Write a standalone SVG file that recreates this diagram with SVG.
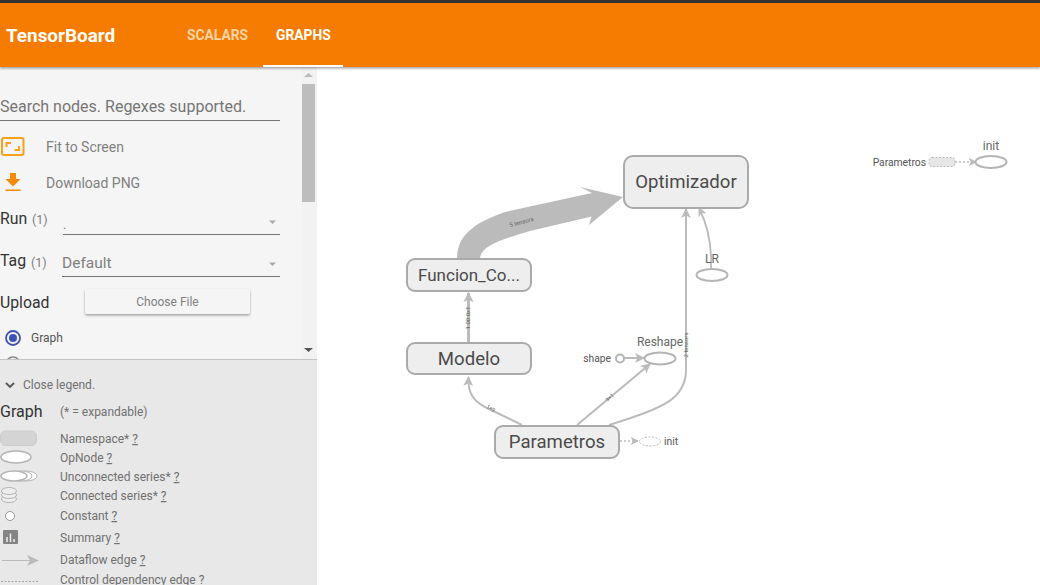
<svg xmlns="http://www.w3.org/2000/svg" width="1040" height="585" viewBox="0 0 1040 585">
<defs>
<marker id="ah" viewBox="0 0 10 10" refX="9" refY="5" markerWidth="5" markerHeight="5" orient="auto-start-reverse" markerUnits="strokeWidth"><path d="M0 0L10 5L0 10L2.500 5Z" fill="#bbb"/></marker>
<marker id="ah3" viewBox="0 0 10 10" refX="9" refY="5" markerWidth="3.400" markerHeight="3.400" orient="auto-start-reverse" markerUnits="strokeWidth"><path d="M0 0L10 5L0 10L2.500 5Z" fill="#bbb"/></marker>
<filter id="sh" x="-10%" y="-30%" width="120%" height="170%"><feDropShadow dx="0" dy="1.500" stdDeviation="1.200" flood-color="#000" flood-opacity=".35"/></filter>
</defs>
<style>
text{font-family:Roboto,"Liberation Sans",sans-serif}
.ns{fill:#eee;stroke:#aaa;stroke-width:2}
.nt{font-size:18.600px;fill:#4a4a4a;text-anchor:middle}
.op{fill:#fff;stroke:#b4b4b4;stroke-width:2}
.e{fill:none;stroke:#bbb}
.d{stroke-dasharray:2 2}
.lb{font-size:10.300px;fill:#555}
.tiny{font-size:6px;fill:#666;text-anchor:middle}
.s{font-size:14px;fill:#808080}
.k{font-size:15.800px;fill:#333}
.c{font-size:12.500px;fill:#808080}
.l{font-size:12px;fill:#707070}
.u{text-decoration:underline}
.rule{stroke:#757575;stroke-width:1}
.lg{fill:#fff;stroke:#b4b4b4}
</style>
<rect width="1040" height="585" fill="#fff"/>
<g id="sidebar">
<rect x="0" y="67" width="317" height="293" fill="#f5f5f5"/>
<rect x="302" y="67" width="15" height="293" fill="#f2f2f2"/>
<rect x="302" y="84" width="13" height="118" fill="#bdbdbd"/>
<path d="M304 77L308.500 73L313 77Z" fill="#bbb"/>
<path d="M304 348L308.500 352L313 348Z" fill="#555"/>
<text x="0" y="112" font-size="16" fill="#757575">Search nodes. Regexes supported.</text>
<line class="rule" x1="0" y1="120.500" x2="280" y2="120.500"/>
<rect x="2" y="138" width="21.500" height="17" rx="2" fill="none" stroke="#f9a11b" stroke-width="2"/>
<path d="M6.500 147V143H11M19 146V150H14.500" fill="none" stroke="#f9a11b" stroke-width="2"/>
<path d="M10 173H16V179H20.500L13 186.500L5.500 179H10ZM5.500 189.500H20.500V191H5.500Z" fill="#f58a0b"/>
<text class="s" x="46" y="152">Fit to Screen</text>
<text class="s" x="46" y="188">Download PNG</text>
<text class="k" x="0" y="224">Run</text><text class="c" x="32" y="224">(1)</text>
<text x="63" y="229" font-size="12" fill="#777">.</text>
<line class="rule" x1="63" y1="234.500" x2="280" y2="234.500"/>
<path d="M269 220.500H276L272.500 224Z" fill="#aaa"/>
<text class="k" x="0" y="266">Tag</text><text class="c" x="31" y="267">(1)</text>
<text x="62" y="268" font-size="15.500" fill="#808080">Default</text>
<line class="rule" x1="62" y1="276.500" x2="280" y2="276.500"/>
<path d="M269 262.500H276L272.500 266Z" fill="#aaa"/>
<text class="k" x="0" y="308">Upload</text>
<rect x="85" y="289" width="165" height="25" rx="2" fill="#f5f5f5" filter="url(#sh)"/>
<text x="167.500" y="306" font-size="12" fill="#808080" text-anchor="middle">Choose File</text>
<circle cx="13" cy="338" r="7" fill="none" stroke="#3f51b5" stroke-width="1.800"/><circle cx="13" cy="338" r="4" fill="#3f51b5"/>
<text x="31" y="342" font-size="12" fill="#555">Graph</text>
<circle cx="13" cy="364" r="7" fill="none" stroke="#888" stroke-width="1.500"/>
</g>
<g id="legend">
<rect x="0" y="360" width="317" height="225" fill="#e8e8e8"/>
<line x1="0" y1="359.500" x2="317" y2="359.500" stroke="#c4c4c4"/>
<path d="M6 383L10 387L14 383" fill="none" stroke="#555" stroke-width="1.800"/>
<text class="l" x="23" y="389">Close legend.</text>
<text x="0" y="417" font-size="16" fill="#333">Graph</text>
<text class="l" x="60" y="416">(* = expandable)</text>
<rect x="0.500" y="431" width="36" height="14.500" rx="5" fill="#d4d4d4" stroke="#ccc"/>
<text class="l" x="60" y="443">Namespace* <tspan class="u">?</tspan></text>
<ellipse class="lg" cx="16" cy="457" rx="15" ry="6" stroke-width="1.500"/>
<text class="l" x="60" y="462">OpNode <tspan class="u">?</tspan></text>
<ellipse class="lg" cx="26" cy="476" rx="11" ry="5" stroke-width="1"/><ellipse class="lg" cx="21" cy="476" rx="11" ry="5" stroke-width="1"/><ellipse class="lg" cx="14" cy="476" rx="13" ry="5" stroke-width="1.500"/>
<text class="l" x="60" y="481">Unconnected series* <tspan class="u">?</tspan></text>
<g fill="#eee" stroke="#b4b4b4"><ellipse cx="9" cy="499" rx="7.500" ry="3.500"/><ellipse cx="9" cy="495" rx="7.500" ry="3.500"/><ellipse cx="9" cy="491" rx="7.500" ry="3.500"/></g>
<text class="l" x="60" y="500">Connected series* <tspan class="u">?</tspan></text>
<circle cx="10" cy="516" r="4.500" fill="#fff" stroke="#999"/>
<text class="l" x="60" y="520">Constant <tspan class="u">?</tspan></text>
<rect x="3" y="530" width="15" height="14" rx="1" fill="#848484"/><path d="M7 542V537M10.500 542V533.500M14 542V539" stroke="#eee" stroke-width="1.500"/>
<text class="l" x="60" y="542">Summary <tspan class="u">?</tspan></text>
<line x1="2" y1="560.500" x2="30" y2="560.500" stroke="#bbb" stroke-width="1"/><path d="M27 555L39 560.500L27 566L30 560.500Z" fill="#bbb"/>
<text class="l" x="60" y="564">Dataflow edge <tspan class="u">?</tspan></text>
<line x1="1" y1="581.500" x2="38" y2="581.500" stroke="#aaa" stroke-dasharray="2 1.500"/>
<text class="l" x="60" y="584">Control dependency edge ?</text>
</g>
<g id="toolbar">
<rect x="0" y="0" width="1040" height="67" fill="#f57c00" filter="url(#sh)"/>
<rect x="0" y="0" width="1040" height="3" fill="#333"/>
<text x="6" y="42" font-size="18.900" font-weight="700" fill="#fff">TensorBoard</text>
<text x="187" y="40" font-size="13.800" font-weight="700" fill="#fbd3a6">SCALARS</text>
<text x="276" y="40" font-size="13.800" font-weight="700" fill="#fff">GRAPHS</text>
<rect x="263" y="65" width="80" height="2" fill="#fff"/>
</g>
<g id="connectors">
<path d="M457 259C457 238 470 224 505 212L592 193L580 187L623 197L589 225L591.500 216.500L530 231C500 240 480 246 480 259Z" fill="#bbb"/>
<path class="e" d="M468.500 342V293" marker-end="url(#ah3)" stroke-width="3"/>
<path class="e" d="M522 425L485 407C472 400 468 392 468.500 377" marker-end="url(#ah)" stroke-width="2"/>
<path class="e" d="M577 425L650 364" marker-end="url(#ah)" stroke-width="2"/>
<path class="e" d="M609 425C665 408 686 398 686 370V209" marker-end="url(#ah)" stroke-width="2"/>
<path class="e" d="M624 358H644" marker-end="url(#ah)" stroke-width="2"/>
<path class="e" d="M711 268C712 245 708 226 699 208" marker-end="url(#ah)" stroke-width="1.800"/>
<path class="e d" d="M620 441H638" marker-end="url(#ah)" stroke-width="1.600"/>
<path class="e d" d="M955 162H976" marker-end="url(#ah)" stroke-width="1.600"/>
</g>
<text class="tiny" transform="translate(522 224) rotate(-15)">5 tensors</text>
<text class="tiny" transform="translate(470 318) rotate(-90)">1 00 0x1</text>
<text class="tiny" transform="translate(490 410) rotate(27)" style="font-size:5.500px">1×9</text>
<text class="tiny" transform="translate(611 399) rotate(-40)" style="font-size:5.500px">9×1</text>
<text class="tiny" transform="translate(688 345) rotate(-90)">2 tensors</text>
<g id="node-optimizador"><rect class="ns" x="624" y="156" width="124" height="52" rx="9"/><text class="nt" x="686" y="188">Optimizador</text></g>
<g id="node-funcion"><rect class="ns" x="407" y="259" width="124" height="32" rx="8"/><text class="nt" x="469" y="281" style="font-size:17px">Funcion_Co...</text></g>
<g id="node-modelo"><rect class="ns" x="407" y="343" width="124" height="31" rx="8"/><text class="nt" x="469" y="365">Modelo</text></g>
<g id="node-parametros"><rect class="ns" x="495" y="426" width="124" height="32" rx="8"/><text class="nt" x="557" y="448">Parametros</text></g>
<g id="node-lr"><ellipse class="op" cx="712" cy="275" rx="15.500" ry="6"/><text x="712" y="263" font-size="12" fill="#666" text-anchor="middle">LR</text></g>
<g id="node-reshape"><ellipse class="op" cx="660" cy="358.500" rx="15.500" ry="6"/><text x="660" y="346" font-size="12" fill="#666" text-anchor="middle">Reshape</text></g>
<g id="node-shape"><circle cx="620" cy="358.500" r="4" fill="#fff" stroke="#b4b4b4" stroke-width="2"/><text class="lb" x="611" y="362" text-anchor="end">shape</text></g>
<g id="node-init-local"><ellipse cx="650" cy="441.500" rx="10.500" ry="4.500" fill="#fff" stroke="#bbb" stroke-dasharray="2 1.500"/><text class="lb" x="664" y="445">init</text></g>
<g id="node-init-main"><ellipse class="op" cx="991" cy="162" rx="15.500" ry="6"/><text x="991" y="150" font-size="12" fill="#666" text-anchor="middle">init</text></g>
<g id="node-parametros-ref"><rect x="929" y="157.500" width="26" height="9" rx="3" fill="#e6e6e6" stroke="#bbb" stroke-dasharray="2 1.500"/><text class="lb" x="926" y="166" text-anchor="end">Parametros</text></g>
</svg>
